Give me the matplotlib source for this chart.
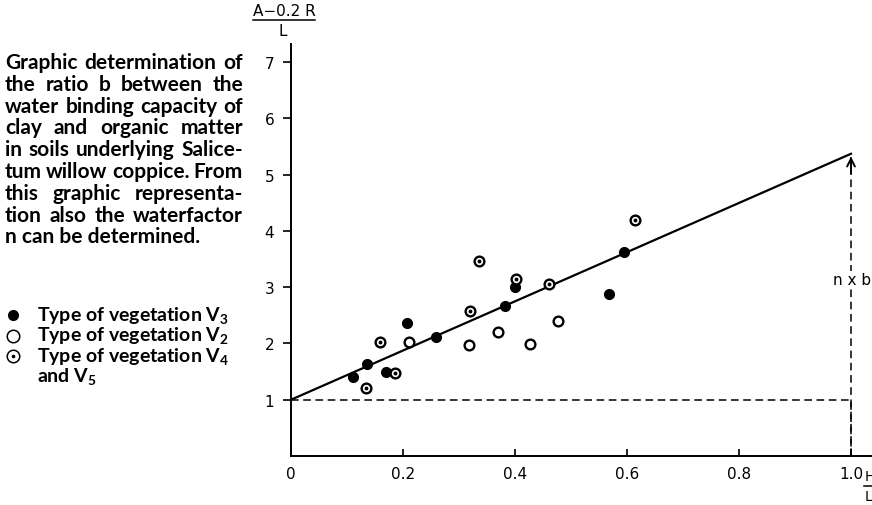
import matplotlib
matplotlib.use("Agg")
import matplotlib.pyplot as plt

# points: x = H/L, y = (A - 0.2 R)/L
V3_X = [0.110, 0.136, 0.170, 0.208, 0.259, 0.383, 0.400, 0.567, 0.595]
V3_Y = [1.41, 1.64, 1.49, 2.37, 2.12, 2.66, 3.01, 2.87, 3.62]
V2_X = [0.210, 0.317, 0.369, 0.426, 0.477]
V2_Y = [2.02, 1.98, 2.21, 1.99, 2.39]
V45_X = [0.134, 0.159, 0.186, 0.319, 0.335, 0.402, 0.461, 0.614]
V45_Y = [1.21, 2.02, 1.47, 2.58, 3.47, 3.14, 3.05, 4.19]

# fitted line: value at H/L = 0 and at H/L = 1 (= n x b)
LINE_X = [0.0, 1.0]
LINE_Y = [1.0, 5.37]

X_TICKS = [0, 0.2, 0.4, 0.6, 0.8, 1.0]
X_LABELS = ["0", "0.2", "0.4", "0.6", "0.8", "1.0"]
Y_TICKS = [1, 2, 3, 4, 5, 6, 7]

CAPTION = [
    "Graphic determination of",
    "the ratio b between the",
    "water binding capacity of",
    "clay and organic matter",
    "in soils underlying Salice-",
    "tum willow coppice. From",
    "this graphic representa-",
    "tion also the waterfactor",
    "n can be determined.",
]
LEGEND = [
    "Type of vegetation V$_\\mathregular{3}$",
    "Type of vegetation V$_\\mathregular{2}$",
    "Type of vegetation V$_\\mathregular{4}$",
    "and V$_\\mathregular{5}$",
]

TEXT_FONT = dict(family="Lato", weight="bold", size=15)
LEGEND_FONT = dict(family="Lato", weight="bold", size=14)
TICK_FONT = dict(family="DejaVu Sans", size=11)

W, H = 872, 506
fig = plt.figure(figsize=(W / 100, H / 100), dpi=100)
ax = fig.add_axes([291 / W, 1 - 457 / H, 1 - 291 / W, (457 - 45) / H])
ax.set_xlim(0, 1.0375)
ax.set_ylim(0, 7.32)

ax.plot(LINE_X, LINE_Y, color="black", lw=1.6, zorder=2)
ax.plot([0, 1.0, 1.0], [1.0, 1.0, -0.05], color="black", lw=1.1, ls=(0, (5, 3)), zorder=1)
ax.plot([1.0, 1.0], [0, LINE_Y[1] - 0.05], color="black", lw=1.1, ls=(0, (5, 3)), zorder=1)
ax.annotate("", xy=(1.0, LINE_Y[1]), xytext=(1.0, LINE_Y[1] - 0.4),
            arrowprops=dict(arrowstyle="->", lw=1.4, color="black", mutation_scale=14))
ax.text(1.002, 3.14, "n x b", ha="center", va="center", fontsize=11, family="DejaVu Sans",
        bbox=dict(facecolor="white", edgecolor="none", pad=0.5), zorder=3)

ax.plot(V3_X, V3_Y, "o", ms=7, color="black", zorder=4, clip_on=False)
ax.plot(V2_X, V2_Y, "o", ms=7, mfc="white", mec="black", mew=1.7, zorder=4)
ax.plot(V45_X, V45_Y, "o", ms=7, mfc="white", mec="black", mew=1.7, zorder=4)
ax.plot(V45_X, V45_Y, "o", ms=1.8, color="black", zorder=5)

for s in ["top", "right"]:
    ax.spines[s].set_visible(False)
ax.spines["left"].set_linewidth(1.4)
ax.spines["bottom"].set_linewidth(1.4)
ax.set_xticks(X_TICKS)
ax.set_xticklabels(X_LABELS, **TICK_FONT)
ax.set_yticks(Y_TICKS)
ax.set_yticklabels([str(v) for v in Y_TICKS], **TICK_FONT)
ax.tick_params(axis="x", direction="in", length=5, width=1.2, pad=7)
ax.tick_params(axis="y", direction="out", length=6, width=1.2, pad=6)

# axis titles as stacked fractions
fig.text(284 / W, 1 - 12 / H, "A\u22120.2 R", ha="center", va="center", **TICK_FONT)
fig.add_artist(plt.Line2D([253 / W, 315 / W], [1 - 21 / H] * 2, color="black", lw=1.1))
fig.text(283 / W, 1 - 32 / H, "L", ha="center", va="center", **TICK_FONT)
fig.text(865 / W, 1 - 477 / H, "H", ha="left", va="center", family="DejaVu Sans", size=10)
fig.add_artist(plt.Line2D([864 / W, 880 / W], [1 - 487 / H] * 2, color="black", lw=1.1))
fig.text(865 / W, 1 - 497 / H, "L", ha="left", va="center", family="DejaVu Sans", size=10)

# justified caption block on the left
r = fig.canvas.get_renderer()
x0, x1 = 5, 243
for i, line in enumerate(CAPTION):
    y = 1 - (63 + 21.8 * i) / H
    words = line.split()
    if i == len(CAPTION) - 1:
        fig.text(x0 / W, y, line, ha="left", va="center", **TEXT_FONT)
        continue
    texts = [fig.text(0, y, w, ha="left", va="center", **TEXT_FONT) for w in words]
    widths = [t.get_window_extent(r).width for t in texts]
    gap = (x1 - x0 - sum(widths)) / (len(words) - 1)
    x = x0
    for t, w in zip(texts, widths):
        t.set_x(x / W)
        x += w + gap

# legend
leg_y = [316, 336.5, 357, 377.5]
fig.add_artist(plt.Line2D([13 / W], [1 - leg_y[0] / H], marker="o", ms=7, color="black", ls=""))
fig.add_artist(plt.Line2D([13 / W], [1 - leg_y[1] / H], marker="o", ms=9, mfc="white",
                          mec="black", mew=1.1, ls=""))
fig.add_artist(plt.Line2D([13 / W], [1 - leg_y[2] / H], marker="o", ms=9, mfc="white",
                          mec="black", mew=1.1, ls=""))
fig.add_artist(plt.Line2D([13 / W], [1 - leg_y[2] / H], marker="o", ms=1.6, color="black", ls=""))
for yy, label in zip(leg_y, LEGEND):
    fig.text(37 / W, 1 - yy / H, label, ha="left", va="center", **LEGEND_FONT)

fig.savefig("out.png", dpi=100)
